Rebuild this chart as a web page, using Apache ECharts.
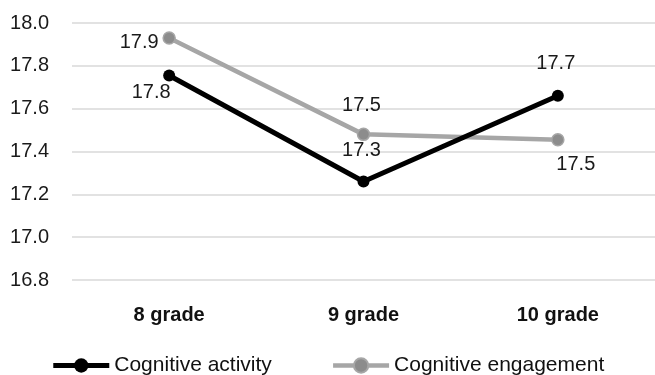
<!DOCTYPE html>
<html>
<head>
<meta charset="utf-8">
<style>
  html, body { margin: 0; padding: 0; background: #ffffff; }
  #chart { width: 655px; height: 375px; }
</style>
<script src="https://cdn.jsdelivr.net/npm/echarts@6/dist/echarts.min.js"></script>
</head>
<body>
<div id="chart"></div>
<script>
// Grades on the horizontal axis
const grades = ['8 grade', '9 grade', '10 grade'];

// Mean scores per grade
const cognitiveActivity = [17.755, 17.26, 17.66];
const cognitiveEngagement = [17.93, 17.48, 17.455];

// Value axis range and step
const yMin = 16.8;
const yMax = 18.0;
const yStep = 0.2;

// Where each value label sits relative to its point [dx, dy]
const activityLabelOffsets = [[-18, 17], [-2, -31], [-2, -32]];
const engagementLabelOffsets = [[-30, 4], [-2, -29], [18, 25]];

const FONT = '"Liberation Sans", Arial, Helvetica, sans-serif';

function withLabels(values, offsets) {
  return values.map((v, i) => ({
    value: v,
    label: { offset: offsets[i] }
  }));
}

const chart = echarts.init(document.getElementById('chart'), null, { renderer: 'canvas' });

chart.setOption({
  animation: false,
  backgroundColor: '#ffffff',
  textStyle: { fontFamily: FONT },
  grid: { left: 72, right: -2, top: 23, bottom: 95, containLabel: false },
  legend: {
    left: 'center',
    top: 350,
    itemWidth: 56,
    itemHeight: 18,
    itemGap: 59,
    textStyle: { fontFamily: FONT, fontSize: 21, color: '#111111' },
    data: [
      { name: 'Cognitive activity', lineStyle: { width: 5 } },
      { name: 'Cognitive engagement', lineStyle: { width: 4.5 } }
    ]
  },
  xAxis: {
    type: 'category',
    data: grades,
    boundaryGap: true,
    axisLine: { show: false },
    axisTick: { show: false },
    axisLabel: {
      margin: 25,
      fontFamily: FONT,
      fontSize: 20,
      fontWeight: 'bold',
      color: '#111111'
    },
    splitLine: { show: false }
  },
  yAxis: {
    type: 'value',
    min: yMin,
    max: yMax,
    interval: yStep,
    axisLine: { show: false },
    axisTick: { show: false },
    axisLabel: {
      margin: 23,
      fontFamily: FONT,
      fontSize: 20,
      color: '#1a1a1a',
      formatter: v => v.toFixed(1)
    },
    splitLine: { lineStyle: { color: '#d9d9d9', width: 1.5 } }
  },
  series: [
    {
      name: 'Cognitive engagement',
      type: 'line',
      data: withLabels(cognitiveEngagement, engagementLabelOffsets),
      symbol: 'circle',
      symbolSize: 12,
      lineStyle: { color: '#a6a6a6', width: 4.5 },
      itemStyle: { color: '#8c8c8c', borderColor: '#a6a6a6', borderWidth: 1.5 },
      label: {
        show: true,
        position: 'inside',
        fontFamily: FONT,
        fontSize: 20,
        color: '#1a1a1a',
        formatter: p => p.value.toFixed(1)
      },
      z: 2
    },
    {
      name: 'Cognitive activity',
      type: 'line',
      data: withLabels(cognitiveActivity, activityLabelOffsets),
      symbol: 'circle',
      symbolSize: 12,
      lineStyle: { color: '#000000', width: 5 },
      itemStyle: { color: '#000000' },
      label: {
        show: true,
        position: 'inside',
        fontFamily: FONT,
        fontSize: 20,
        color: '#1a1a1a',
        formatter: p => p.value.toFixed(1)
      },
      z: 3
    }
  ]
});
</script>
</body>
</html>
